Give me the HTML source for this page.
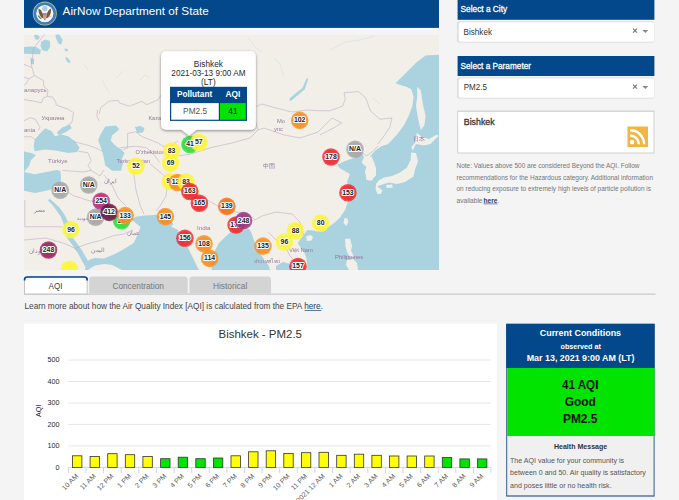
<!DOCTYPE html>
<html><head><meta charset="utf-8"><title>AirNow Department of State</title>
<style>
html,body{margin:0;padding:0;background:#f4f4f4;}
body{width:679px;height:500px;overflow:hidden;}
svg{display:block;font-family:"Liberation Sans",sans-serif;}
.ml{font-weight:bold;font-size:6.9px;text-anchor:middle;fill:#222;stroke:#fff;stroke-width:2.1px;paint-order:stroke;stroke-linejoin:round;}
</style></head><body>
<svg width="679" height="500" viewBox="0 0 679 500">
<rect width="679" height="500" fill="#f4f4f4"/>
<rect x="24" y="-1" width="415" height="28.9" fill="#03488a"/><rect x="24" y="28.3" width="415" height="1.3" fill="#fbfbfb"/>
<g transform="translate(44.8 13.6)"><circle r="12" fill="#b9c47a"/><circle r="11.2" fill="#3f7cc4"/><circle r="8.6" fill="#f4f6f8"/><circle cy="-5" r="2.7" fill="#a9cde3"/><path d="M-6.3 -5.2 L-4 -3.6 L-2.3 -0.6 L-1.2 3.2 L-1 4.8 L-3.4 4 L-5.2 1.5 L-6.2 -1.8Z" fill="#7b5a32"/><path d="M6.3 -5.2 L4 -3.6 L2.3 -0.6 L1.2 3.2 L1 4.8 L3.4 4 L5.2 1.5 L6.2 -1.8Z" fill="#7b5a32"/><rect x="-1.8" y="-0.2" width="3.6" height="1.3" fill="#3a5fa8"/><path d="M-1.8 1.1 L1.8 1.1 L1.8 3.4 Q0 5.2 -1.8 3.4Z" fill="#e08c8c"/><path d="M-1.2 5 L1.2 5 L0 6.8Z" fill="#8a6a40"/><path d="M-6.5 2 Q-5.5 4.5 -3.5 5" stroke="#4f8a3f" stroke-width="1.3" fill="none"/><path d="M4 3.5 L6.5 2.5" stroke="#b8b8b8" stroke-width="0.8" fill="none"/></g>
<text x="62.6" y="15.2" font-size="11.8" fill="#fff" textLength="146.2" lengthAdjust="spacingAndGlyphs">AirNow Department of State</text>
<defs><clipPath id="mc"><rect x="24" y="34.5" width="415" height="235.5"/></clipPath></defs>
<g clip-path="url(#mc)">
<rect x="24" y="34.5" width="415" height="235.5" fill="#f2efe9"/>
<g fill="#aad3df">
<path d="M20 47.5 L30 46.5 L36 47 L41 50 L40 54.3 L30 54 L20 53.5Z"/>
<path d="M30.3 58 L34 58.5 L34 64.6 L31 64Z"/>
<path d="M34 35 L37 34.5 L40 37 L38 40 L35 39Z"/>
<path d="M41 42 L45 39.6 L50 41 L50.2 47 L47 51.4 L42 50 L40.6 46Z"/>
<path d="M55.3 34.4 L59 34 L62.7 40 L61 44.7 L58 43 L56 38Z"/>
<path d="M64.5 48.4 L68 49 L67.5 51.4 L65 51Z"/>
<path d="M65 57.2 L68 58 L70.8 62 L68.5 63.1 L66 60Z"/>
<path d="M33.7 145.9 L34.6 139.8 L39.9 133.6 L45.2 128.3 L51.4 130.9 L54.9 136.2 L61.1 134.5 L68.2 136.2 L75.2 141.5 L79.7 147.7 L77 152.1 L68.2 153 L55.8 150.4 L45.2 149.5 L34.6 151.2Z"/>
<path d="M56.7 132.7 L62 127.4 L69.9 124.7 L71.7 128.3 L64.6 132.7 L59.3 135.3Z"/>
<path d="M100 135.3 L105.3 126.5 L115.9 125.6 L119.4 129.2 L112.3 135.3 L110.6 140.6 L115.9 145.9 L121.2 149.5 L124.7 153 L122 158.3 L122.9 163.6 L121.2 170.7 L112.3 170.7 L105.3 165.4 L103.5 156.5 L101.7 149.5 L98.2 140.6Z"/>
<path d="M20 150 L26 152 L31 153 L36 155 L31 160 L29 166 L24 172.1 L35 174.3 L46 172.1 L57 169.9 L60.3 171 L61 176 L60.3 186.4 L54.8 188.6 L46 190.8 L35 193 L24 190.8 L20 190Z"/>
<path d="M48.0 200.5 L51.9 204.6 L56.4 210.2 L60.6 216.6 L63.3 222.7 L65.2 230.6 L67.3 238.2 L71.6 244.1 L77.3 252.3 L81.9 260.4 L84.9 266.0 L88.1 269.4 L91.9 265.4 L89.1 263.0 L86.3 258.0 L81.5 249.5 L75.4 241.3 L71.7 236.2 L69.8 229.4 L67.7 221.3 L64.4 214.4 L59.6 207.8 L54.1 202.4 L49.6 198.7Z"/>
<path d="M93 204 L101 206 L110 210 L118 212.5 L124 215 L127 214 L126 219 L119 221 L108 218 L98 213Z"/>
<path d="M85 270 L86 262 L90 259.5 L94.7 258 L104 258.5 L115.8 253.6 L125 248.5 L133.6 243 L137.5 235 L140.6 227 L133.2 221 L130.4 219.6 L136 216.8 L144.4 215.4 L150 215.2 L156.3 214.7 L165 218 L173.8 223.8 L171 226.6 L178 230.1 L178 233.6 L182.2 240.6 L187.8 247.6 L192 256 L196.2 264.4 L199 270 L122 270 L112.2 265 L104 263.9 L95 265.5 L90 268.5 L88 270Z"/>
<path d="M211.6 270 L211.6 261.6 L213 254.6 L215.8 249 L219 243 L225 237 L231 231.8 L238.5 231 L244.5 229.5 L249 228.8 L251.3 232.5 L252.8 237 L255 243 L259.5 252 L264 259.6 L268.6 265.6 L270 270Z"/>
<path d="M276 266 L283 262 L290 264 L293 270 L276 270Z"/>
<path d="M307.1 275 L307.1 262.1 L305.9 256.2 L303.6 251.5 L300 246.8 L297.7 243.3 L300 239.7 L303.6 235 L307.1 230.3 L311.8 230.3 L317.7 231.5 L323.6 230.3 L329.5 226.2 L335.4 222 L340 217.4 L345 210 L348 201 L351 193 L347 182 L350 174 L341 169 L337 165 L345 161 L354 158 L361 151 L364 157 L361.6 162.4 L365.6 166.4 L370.4 156 L375.2 150.4 L380.8 146.4 L388 144 L392 140 L398.4 132.8 L404 125.2 L408.8 115.6 L412.4 106 L413.6 96.4 L411.2 89.2 L406.4 86.8 L401.6 85.6 L395.6 83.2 L399.2 79.6 L406.4 72.4 L416 62.8 L425.6 55.6 L445 54.5 L445 275 L300 275Z"/>
<path d="M135 127 L140 126 L144.5 128 L143 132.5 L137 133Z"/>
<path d="M308.4 78.4 L304.8 89.2 L298 95 L290.4 101.2 L289.2 98.8 L296 93 L302.4 88 L306.5 78.4Z"/>
</g>
<g fill="#f2efe9">
<path d="M362.5 162.4 L366.5 166.4 L365 171.2 L366.5 180 L371.4 180.8 L376 175.2 L376 168 L373.8 161.6 L371.4 156Z"/>
<path d="M416.8 132.8 L420.8 136 L428.8 139.2 L436.8 134.4 L438.4 136 L430.4 144 L424 145.6 L416 144 L412.8 150.4 L411.2 147.2 L415.2 142.4Z"/>
<path d="M411.2 152.6 L416 153 L418 161.6 L415 169.6 L413.5 176.5 L405 182 L397 184 L389 182.5 L381 185 L376 186.5 L376 184 L379.2 180 L384 177.5 L392 176 L400 172.5 L407 167.5 L410.5 160Z"/>
<path d="M386 185 L392 184.5 L393 187.5 L387 188Z"/>
<path d="M376 185 L382.4 190.4 L381 194 L377.6 194 L375.5 189Z"/>
<path d="M417.2 86.8 L420.8 90.4 L423.2 106 L425.6 115.6 L424.4 125.2 L420.8 130 L418.4 120.4 L416 106 L417.2 96.4Z"/>
<path d="M344.5 218 L347.5 218.5 L348.3 222 L346.3 226 L343.5 223Z"/>
<path d="M306 236.5 L310.5 235 L313 237 L311.5 240.5 L307 241Z"/>
<path d="M345 239 L350 238.5 L352 246 L351 251 L354.5 257 L350 257 L347 252 L345.5 246Z"/>
<path d="M347 260 L353 259 L357 263 L358 270 L349 270 L346 265Z"/>
</g>
<g fill="none" stroke="#b5d8e3" stroke-width="0.6" opacity="0.6"><path d="M102.4 80.4 L105 86 L108.8 91.6"/><path d="M123.2 70.8 L115.2 78.8"/><path d="M84 64 L88 70"/><path d="M140 80 L145 75 L150 78"/><path d="M196 50 L200 60 L206 66"/><path d="M248 38 L256 48 L262 52"/><path d="M274 58 L280 64 L284 76"/><path d="M330 50 L345 42 L360 40 L375 36"/><path d="M373 98 L380 104"/></g>
<g fill="none" stroke="#bfa7c4" stroke-width="0.7" opacity="0.8">
<path d="M44.8 34 L33.6 48.4 L32.8 54.8 L31.2 64.4 L32 67.6"/>
<path d="M24 64.4 L32 67.6 L34.4 75.6 L28.8 78.8 L24 77.2"/>
<path d="M28.8 78.8 L26.4 83.6 L24 85.2"/>
<path d="M34.4 75.6 L43.2 80.4 L44 86.8 L48 90 L47.2 96.4 L43.2 98 L41.6 102.8 L33.6 101.2 L24 99.6"/>
<path d="M47.2 96.4 L52.8 97.2 L56 102.8 L56 104.8 L68.8 109.6 L73.6 112.8 L72 122.4 L67.2 125.6"/>
<path d="M24 120.8 L30.4 117.6 L35.2 119.2 L40 127.2 L38.4 130.4"/>
<path d="M24 136.8 L32 136.8 L35.2 140"/>
<path d="M73.6 141.6 L86.4 144.8 L96 148 L102.4 151.2"/>
<path d="M78.4 151.2 L88 152.8 L91.2 160.8 L88 165.6 L91.2 170.4 L83.2 172 L62.4 170.4"/>
<path d="M97.6 109.6 L96.8 116 L99.2 120.8"/>
<path d="M99.2 114 L100.8 107.6 L108.8 101.2 L118.4 100.4 L119.6 103 L129.2 106.2 L142 101.4 L146.8 104.6 L158 99.8 L161.2 95 L170 100 L180 106 L196 112 L216 119 L232 116 L250 109 L262 104 L276 108 L292 112 L308 110 L320 110.8"/>
<path d="M127.6 133.4 L135.6 131.8 L142 136.6 L150 139.8 L158 143 L162.8 146.2 L170 146 L178 141"/>
<path d="M127.6 133.4 L127.6 148.2 L122.8 149.4"/>
<path d="M119.6 147.8 L135.6 146.2 L146.8 147.8 L154.8 155.8 L159.6 162.2"/>
<path d="M178.8 155.8 L190 154.2 L210 147.8 L232 143 L250 138 L258 130 L255 120 L250 109"/>
<path d="M258 130 L264 128 L284 135 L300 138 L318 132 L328 122 L332 118 L341.6 122.8 L334.4 127.6 L320 134.8"/>
<path d="M320 110.8 L329.6 110.8 L342.8 106 L345.2 98.8 L344 92.8 L358.4 91.6 L365.6 97.6 L370.4 110.8 L380 119.2 L392 118 L389.6 127.6 L384.8 134.8 L377.6 144.4"/>
<path d="M361 151 L366 156 L372 152 L378 146"/>
<path d="M24.8 200 L24.8 226.8 L62.4 226.8"/>
<path d="M65.6 190.8 L73.6 195.6 L88 200.4 L96 202"/>
<path d="M75.2 248.4 L88 243.6 L100.8 240.4 L113.6 235.6 L124 234 L133 230"/>
<path d="M91.2 170.4 L100 176 L104 170"/>
<path d="M104 175 L112 185 L118 198 L126 206"/>
<path d="M133 168 L136 190 L140 205 L144 214"/>
<path d="M150 164 L160 172 L168 180 L166 196 L160 206 L156 211"/>
<path d="M176 178 L190 182 L200 196 L218 206 L236 212 L248 214 L255 220"/>
<path d="M255 220 L262 216 L276 212 L292 214 L300 222 L303.6 235"/>
<path d="M268 232 L276 240 L286 248 L290 256 L296 262"/>
<path d="M24 240 L46 238 L66 244 L78 250"/>
</g>
<g fill="#8c6b94" opacity="0.9">
<text x="24" y="91.5" font-size="6.0">аларусь</text>
<text x="41.6" y="120" font-size="6.0">Украина</text>
<text x="24" y="131.5" font-size="6.0">ania</text>
<text x="48" y="163" font-size="6.0">Türkiye</text>
<text x="116.4" y="163" font-size="5.6">Turkmenistan</text>
<text x="135.6" y="153.5" font-size="5.6">O&#39;zbekiston</text>
<text x="148.4" y="120" font-size="5.6">Kaza</text>
<text x="197" y="229.5" font-size="6.2">India</text>
<text x="289" y="252" font-size="5.8">Việt Nam</text>
<text x="335" y="259" font-size="5.8">Philippines</text>
<text x="263" y="168" font-size="5.8">中国</text>
<text x="413" y="141" font-size="5.8">日本</text>
<text x="277" y="123" font-size="5.8">Mo</text>
<text x="274" y="131" font-size="5.8">ync</text>
<text x="33.6" y="211.5" font-size="5.8">مصر</text>
<text x="104" y="183" font-size="5.8">ایران</text>
<text x="76.8" y="219.5" font-size="5.2">السعودية</text>
<text x="127" y="234.5" font-size="5.8">عمان</text>
<text x="91" y="252" font-size="5.8">اليمن</text><text x="29" y="253" font-size="5.8">السودان</text>
<text x="254" y="263" font-size="5.2">ประเทศไทย</text>
</g>
<g transform="translate(48.5 250)"><circle r="8.8" fill="#a0205e" opacity="0.8"/><circle r="7.4" fill="#a0205e" opacity="0.6"/><text y="1.9" class="ml">248</text></g>
<g transform="translate(69.5 269.2)"><circle r="8.8" fill="#fdf53a" opacity="0.8"/><circle r="7.4" fill="#fdf53a" opacity="0.6"/></g>
<g transform="translate(71 229.6)"><circle r="8.8" fill="#fdf53a" opacity="0.8"/><circle r="7.4" fill="#fdf53a" opacity="0.6"/><text y="1.9" class="ml">96</text></g>
<g transform="translate(60.2 190.3)"><circle r="8.8" fill="#a6a6a6" opacity="0.8"/><circle r="7.4" fill="#a6a6a6" opacity="0.6"/><text y="1.9" class="ml">N/A</text></g>
<g transform="translate(88.7 185)"><circle r="8.8" fill="#a6a6a6" opacity="0.8"/><circle r="7.4" fill="#a6a6a6" opacity="0.6"/><text y="1.9" class="ml">N/A</text></g>
<g transform="translate(101.2 201.2)"><circle r="8.8" fill="#bf2e78" opacity="0.8"/><circle r="7.4" fill="#bf2e78" opacity="0.6"/><text y="1.9" class="ml">254</text></g>
<g transform="translate(95.6 217.2)"><circle r="8.8" fill="#a6a6a6" opacity="0.8"/><circle r="7.4" fill="#a6a6a6" opacity="0.6"/><text y="1.9" class="ml">N/A</text></g>
<g transform="translate(121.6 220.8)"><circle r="8.8" fill="#2ddc3a" opacity="0.8"/><circle r="7.4" fill="#2ddc3a" opacity="0.6"/><text y="1.9" class="ml">28</text></g>
<g transform="translate(109.2 212.4)"><circle r="8.8" fill="#6a1a42" opacity="0.8"/><circle r="7.4" fill="#6a1a42" opacity="0.6"/><text y="1.9" class="ml">412</text></g>
<g transform="translate(125.2 215.6)"><circle r="8.8" fill="#f78e1d" opacity="0.8"/><circle r="7.4" fill="#f78e1d" opacity="0.6"/><text y="1.9" class="ml">133</text></g>
<g transform="translate(136 166.2)"><circle r="8.8" fill="#fdf53a" opacity="0.8"/><circle r="7.4" fill="#fdf53a" opacity="0.6"/><text y="1.9" class="ml">52</text></g>
<g transform="translate(171.6 151)"><circle r="8.8" fill="#fdf53a" opacity="0.8"/><circle r="7.4" fill="#fdf53a" opacity="0.6"/><text y="1.9" class="ml">83</text></g>
<g transform="translate(170.6 163.1)"><circle r="8.8" fill="#fdf53a" opacity="0.8"/><circle r="7.4" fill="#fdf53a" opacity="0.6"/><text y="1.9" class="ml">69</text></g>
<g transform="translate(170 181.5)"><circle r="8.8" fill="#fdf53a" opacity="0.8"/><circle r="7.4" fill="#fdf53a" opacity="0.6"/><text y="1.9" class="ml">91</text></g>
<g transform="translate(177.5 182.5)"><circle r="8.8" fill="#f78e1d" opacity="0.8"/><circle r="7.4" fill="#f78e1d" opacity="0.6"/><text y="1.9" class="ml">128</text></g>
<g transform="translate(186 182)"><circle r="8.8" fill="#fdf53a" opacity="0.8"/><circle r="7.4" fill="#fdf53a" opacity="0.6"/><text y="1.9" class="ml">83</text></g>
<g transform="translate(189.8 191.5)"><circle r="8.8" fill="#ef282d" opacity="0.8"/><circle r="7.4" fill="#ef282d" opacity="0.6"/><text y="1.9" class="ml">163</text></g>
<g transform="translate(199.4 203.3)"><circle r="8.8" fill="#ef282d" opacity="0.8"/><circle r="7.4" fill="#ef282d" opacity="0.6"/><text y="1.9" class="ml">165</text></g>
<g transform="translate(226.8 206.4)"><circle r="8.8" fill="#fa6e14" opacity="0.8"/><circle r="7.4" fill="#fa6e14" opacity="0.6"/><text y="1.9" class="ml">139</text></g>
<g transform="translate(165.4 216.6)"><circle r="8.8" fill="#f78e1d" opacity="0.8"/><circle r="7.4" fill="#f78e1d" opacity="0.6"/><text y="1.9" class="ml">145</text></g>
<g transform="translate(184.9 238.3)"><circle r="8.8" fill="#ef282d" opacity="0.8"/><circle r="7.4" fill="#ef282d" opacity="0.6"/><text y="1.9" class="ml">156</text></g>
<g transform="translate(204 243.8)"><circle r="8.8" fill="#f78e1d" opacity="0.8"/><circle r="7.4" fill="#f78e1d" opacity="0.6"/><text y="1.9" class="ml">108</text></g>
<g transform="translate(209.6 258.4)"><circle r="8.8" fill="#f78e1d" opacity="0.8"/><circle r="7.4" fill="#f78e1d" opacity="0.6"/><text y="1.9" class="ml">114</text></g>
<g transform="translate(236.1 225)"><circle r="8.8" fill="#ef282d" opacity="0.8"/><circle r="7.4" fill="#ef282d" opacity="0.6"/><text y="1.9" class="ml">173</text></g>
<g transform="translate(243.6 220.6)"><circle r="8.8" fill="#94387f" opacity="0.8"/><circle r="7.4" fill="#94387f" opacity="0.6"/><text y="1.9" class="ml">248</text></g>
<g transform="translate(263 246.1)"><circle r="8.8" fill="#f78e1d" opacity="0.8"/><circle r="7.4" fill="#f78e1d" opacity="0.6"/><text y="1.9" class="ml">135</text></g>
<g transform="translate(284.4 242)"><circle r="8.8" fill="#fdf53a" opacity="0.8"/><circle r="7.4" fill="#fdf53a" opacity="0.6"/><text y="1.9" class="ml">96</text></g>
<g transform="translate(295.6 230.8)"><circle r="8.8" fill="#fdf53a" opacity="0.8"/><circle r="7.4" fill="#fdf53a" opacity="0.6"/><text y="1.9" class="ml">88</text></g>
<g transform="translate(320.7 223.3)"><circle r="8.8" fill="#fdf53a" opacity="0.8"/><circle r="7.4" fill="#fdf53a" opacity="0.6"/><text y="1.9" class="ml">80</text></g>
<g transform="translate(298 266.5)"><circle r="8.8" fill="#ef282d" opacity="0.8"/><circle r="7.4" fill="#ef282d" opacity="0.6"/><text y="1.9" class="ml">157</text></g>
<g transform="translate(299.7 120.4)"><circle r="8.8" fill="#f78e1d" opacity="0.8"/><circle r="7.4" fill="#f78e1d" opacity="0.6"/><text y="1.9" class="ml">102</text></g>
<g transform="translate(331 157)"><circle r="8.8" fill="#ef282d" opacity="0.8"/><circle r="7.4" fill="#ef282d" opacity="0.6"/><text y="1.9" class="ml">178</text></g>
<g transform="translate(355 149.3)"><circle r="8.8" fill="#a6a6a6" opacity="0.8"/><circle r="7.4" fill="#a6a6a6" opacity="0.6"/><text y="1.9" class="ml">N/A</text></g>
<g transform="translate(347.9 192.8)"><circle r="8.8" fill="#ef282d" opacity="0.8"/><circle r="7.4" fill="#ef282d" opacity="0.6"/><text y="1.9" class="ml">153</text></g>
<g transform="translate(190 144.5)"><circle r="8.8" fill="#2ddc3a" opacity="0.8"/><circle r="7.4" fill="#2ddc3a" opacity="0.6"/></g>
<g transform="translate(198.8 142.5)"><circle r="8.8" fill="#fdf53a" opacity="0.8"/><circle r="7.4" fill="#fdf53a" opacity="0.6"/></g>
<g transform="translate(190 144.5)"><text y="1.9" class="ml">41</text></g>
<g transform="translate(198.8 142.5)"><text y="1.9" class="ml">57</text></g>
</g>
<defs><filter id="sh" x="-20%" y="-20%" width="140%" height="140%"><feGaussianBlur in="SourceAlpha" stdDeviation="1.7"/><feOffset dy="0.8"/><feComponentTransfer><feFuncA type="linear" slope="0.45"/></feComponentTransfer><feMerge><feMergeNode/><feMergeNode in="SourceGraphic"/></feMerge></filter></defs>
<g filter="url(#sh)"><rect x="161" y="51.2" width="94.8" height="78.5" rx="5" fill="#fff"/><path d="M180.5 129 L197.5 129 L189.2 135.6Z" fill="#fff"/></g>
<text x="208.4" y="67" font-size="8.3" fill="#2a2a2a" text-anchor="middle">Bishkek</text>
<text x="208.4" y="76.3" font-size="8.3" fill="#2a2a2a" text-anchor="middle" textLength="74.1" lengthAdjust="spacingAndGlyphs">2021-03-13 9:00 AM</text>
<text x="208.4" y="84.6" font-size="8.3" fill="#2a2a2a" text-anchor="middle">(LT)</text>
<rect x="170" y="86.8" width="77" height="34.1" fill="#03488a"/>
<rect x="171.2" y="103.1" width="47.6" height="16.6" fill="#fff"/>
<rect x="220" y="103.1" width="25.8" height="16.6" fill="#00e400"/>
<text x="194.6" y="97.1" font-size="8.3" fill="#fff" font-weight="bold" text-anchor="middle" textLength="35.2" lengthAdjust="spacingAndGlyphs">Pollutant</text>
<text x="232.9" y="97.1" font-size="8.3" fill="#fff" font-weight="bold" text-anchor="middle">AQI</text>
<text x="195.1" y="113.6" font-size="8.3" fill="#555" text-anchor="middle">PM2.5</text>
<text x="232.9" y="113.6" font-size="8.3" fill="#111" text-anchor="middle">41</text>
<rect x="457.6" y="-1" width="196.8" height="20.8" fill="#03488a"/>
<text x="460.6" y="12.3" font-size="9" fill="#fff" textLength="46.5" lengthAdjust="spacingAndGlyphs" stroke="#fff" stroke-width="0.3">Select a City</text>
<rect x="457.2" y="21.6" width="197.2" height="21" rx="2" fill="#d6d6d6"/>
<rect x="458.6" y="22.2" width="195.6" height="19.6" rx="1.5" fill="#fff"/>
<text x="463.6" y="34.8" font-size="9.4" fill="#333" textLength="28.4" lengthAdjust="spacingAndGlyphs">Bishkek</text>
<rect x="457.6" y="56" width="196.8" height="20" fill="#03488a"/>
<text x="460.5" y="69.1" font-size="9" fill="#fff" textLength="70.5" lengthAdjust="spacingAndGlyphs" stroke="#fff" stroke-width="0.3">Select a Parameter</text>
<rect x="457.2" y="77.6" width="197.2" height="21" rx="2" fill="#d6d6d6"/>
<rect x="458.6" y="78.2" width="195.6" height="19.6" rx="1.5" fill="#fff"/>
<text x="463.7" y="90.1" font-size="8.9" fill="#333" textLength="23.2" lengthAdjust="spacingAndGlyphs">PM2.5</text>
<path d="M633 28.7 L637 32.7 M637 28.7 L633 32.7" stroke="#777" stroke-width="1.15"/>
<path d="M642.3 30 L648.3 30 L645.3 33Z" fill="#888"/>
<path d="M633 84.7 L637 88.7 M637 84.7 L633 88.7" stroke="#777" stroke-width="1.15"/>
<path d="M642.3 86 L648.3 86 L645.3 89Z" fill="#888"/>
<rect x="457.2" y="110.5" width="197.3" height="43" fill="#cfcfcf"/>
<rect x="458.2" y="111.8" width="195.3" height="40.7" fill="#fff"/>
<text x="463.8" y="125" font-size="9.8" fill="#3a3a3a" textLength="30.8" lengthAdjust="spacingAndGlyphs" stroke="#3a3a3a" stroke-width="0.35">Bishkek</text>
<g transform="translate(627.5 126.5)"><rect width="20.5" height="20.5" fill="#f0b542"/><circle cx="4.6" cy="15.6" r="2.3" fill="#fff"/><path d="M2.6 9 A8.8 8.8 0 0 1 11.4 17.8" fill="none" stroke="#fff" stroke-width="2.4"/><path d="M2.6 3.8 A14 14 0 0 1 16.6 17.8" fill="none" stroke="#fff" stroke-width="2.4"/></g>
<text x="456.5" y="168" font-size="6.6" fill="#747474" textLength="183" lengthAdjust="spacingAndGlyphs">Note: Values above 500 are considered Beyond the AQI. Follow</text>
<text x="456.5" y="179.5" font-size="6.6" fill="#747474" textLength="196.5" lengthAdjust="spacingAndGlyphs">recommendations for the Hazardous category. Additional information</text>
<text x="456.5" y="191" font-size="6.6" fill="#747474" textLength="194.5" lengthAdjust="spacingAndGlyphs">on reducing exposure to extremely high levels of particle pollution is</text>
<text x="456.5" y="202.5" font-size="6.6" fill="#747474">available</text>
<text x="483.5" y="202.5" font-size="6.6" font-weight="bold" fill="#2a3f66">here</text>
<rect x="483.5" y="203.6" width="14" height="0.6" fill="#2a3f66"/>
<text x="497.6" y="202.5" font-size="6.6" fill="#747474">.</text>
<rect x="24" y="293.6" width="631.5" height="1" fill="#bdbdbd"/>
<path d="M24.5 294 L24.5 279.5 Q24.5 276.8 27.5 276.8 L84.2 276.8 Q87.2 276.8 87.2 279.5 L87.2 294Z" fill="#fff" stroke="#c4c4c4" stroke-width="1"/>
<path d="M24.6 280.5 L24.6 279.2 Q24.6 277 27.6 277 L84.1 277 Q87.1 277 87.1 279.2 L87.1 280.5" fill="none" stroke="#03488a" stroke-width="1.7"/>
<path d="M89.2 293.6 L89.2 279.5 Q89.2 276.6 92.2 276.6 L184.7 276.6 Q187.7 276.6 187.7 279.5 L187.7 293.6Z" fill="#d4d4d4"/>
<path d="M189.4 293.6 L189.4 279.5 Q189.4 276.6 192.4 276.6 L268 276.6 Q271 276.6 271 279.5 L271 293.6Z" fill="#d4d4d4"/>
<text x="55.5" y="289.4" font-size="9" fill="#444" text-anchor="middle" textLength="14" lengthAdjust="spacingAndGlyphs">AQI</text>
<text x="138.2" y="289.4" font-size="9" fill="#777" text-anchor="middle" textLength="51.5" lengthAdjust="spacingAndGlyphs">Concentration</text>
<text x="230.1" y="289.4" font-size="9" fill="#777" text-anchor="middle" textLength="34.4" lengthAdjust="spacingAndGlyphs">Historical</text>
<text x="24.5" y="308.8" font-size="8.2" fill="#444" textLength="298.5" lengthAdjust="spacingAndGlyphs">Learn more about how the Air Quality Index [AQI] is calculated from the EPA <tspan fill="#23406e">here</tspan>.</text>
<rect x="304.6" y="310" width="16.8" height="0.7" fill="#23406e"/>
<rect x="24" y="323.8" width="473" height="180" fill="#fff"/>
<text x="260.25" y="338" font-size="11" fill="#333" text-anchor="middle" textLength="83.5" lengthAdjust="spacingAndGlyphs">Bishkek - PM2.5</text>
<g stroke="#e6e6e6" stroke-width="1">
<line x1="68.4" x2="491" y1="445.9" y2="445.9"/>
<line x1="68.4" x2="491" y1="424.4" y2="424.4"/>
<line x1="68.4" x2="491" y1="403.0" y2="403.0"/>
<line x1="68.4" x2="491" y1="381.5" y2="381.5"/>
<line x1="68.4" x2="491" y1="360.0" y2="360.0"/>
</g><g stroke="#ccd6eb" stroke-width="1">
<line x1="68.4" x2="491" y1="467.4" y2="467.4"/>
<line x1="68.4" x2="68.4" y1="467.4" y2="473"/>
<line x1="86.0" x2="86.0" y1="467.4" y2="473"/>
<line x1="103.6" x2="103.6" y1="467.4" y2="473"/>
<line x1="121.2" x2="121.2" y1="467.4" y2="473"/>
<line x1="138.8" x2="138.8" y1="467.4" y2="473"/>
<line x1="156.4" x2="156.4" y1="467.4" y2="473"/>
<line x1="174.1" x2="174.1" y1="467.4" y2="473"/>
<line x1="191.7" x2="191.7" y1="467.4" y2="473"/>
<line x1="209.3" x2="209.3" y1="467.4" y2="473"/>
<line x1="226.9" x2="226.9" y1="467.4" y2="473"/>
<line x1="244.5" x2="244.5" y1="467.4" y2="473"/>
<line x1="262.1" x2="262.1" y1="467.4" y2="473"/>
<line x1="279.7" x2="279.7" y1="467.4" y2="473"/>
<line x1="297.3" x2="297.3" y1="467.4" y2="473"/>
<line x1="314.9" x2="314.9" y1="467.4" y2="473"/>
<line x1="332.5" x2="332.5" y1="467.4" y2="473"/>
<line x1="350.2" x2="350.2" y1="467.4" y2="473"/>
<line x1="367.8" x2="367.8" y1="467.4" y2="473"/>
<line x1="385.4" x2="385.4" y1="467.4" y2="473"/>
<line x1="403.0" x2="403.0" y1="467.4" y2="473"/>
<line x1="420.6" x2="420.6" y1="467.4" y2="473"/>
<line x1="438.2" x2="438.2" y1="467.4" y2="473"/>
<line x1="455.8" x2="455.8" y1="467.4" y2="473"/>
<line x1="473.4" x2="473.4" y1="467.4" y2="473"/>
<line x1="491.0" x2="491.0" y1="467.4" y2="473"/>
</g><g font-size="6.7" fill="#2a2a2a" text-anchor="end">
<text x="59.6" y="469.8" textLength="4" lengthAdjust="spacingAndGlyphs">0</text>
<text x="59.6" y="448.3" textLength="12" lengthAdjust="spacingAndGlyphs">100</text>
<text x="59.6" y="426.8" textLength="12" lengthAdjust="spacingAndGlyphs">200</text>
<text x="59.6" y="405.4" textLength="12" lengthAdjust="spacingAndGlyphs">300</text>
<text x="59.6" y="383.9" textLength="12" lengthAdjust="spacingAndGlyphs">400</text>
<text x="59.6" y="362.4" textLength="12" lengthAdjust="spacingAndGlyphs">500</text>
</g>
<text transform="translate(41.3 410.8) rotate(-90)" font-size="7.3" fill="#222" text-anchor="middle">AQI</text>
<g stroke="#333" stroke-width="0.8">
<rect x="72.5" y="455.8" width="9.4" height="11.6" fill="#ffff00"/>
<rect x="90.1" y="456.5" width="9.4" height="10.9" fill="#ffff00"/>
<rect x="107.7" y="453.7" width="9.4" height="13.7" fill="#ffff00"/>
<rect x="125.3" y="454.7" width="9.4" height="12.7" fill="#ffff00"/>
<rect x="142.9" y="456.5" width="9.4" height="10.9" fill="#ffff00"/>
<rect x="160.6" y="458.7" width="9.4" height="8.7" fill="#00e400"/>
<rect x="178.2" y="457.2" width="9.4" height="10.2" fill="#00e400"/>
<rect x="195.8" y="458.7" width="9.4" height="8.7" fill="#00e400"/>
<rect x="213.4" y="458.0" width="9.4" height="9.4" fill="#00e400"/>
<rect x="231.0" y="455.8" width="9.4" height="11.6" fill="#ffff00"/>
<rect x="248.6" y="451.8" width="9.4" height="15.6" fill="#ffff00"/>
<rect x="266.2" y="450.8" width="9.4" height="16.6" fill="#ffff00"/>
<rect x="283.8" y="453.4" width="9.4" height="14.0" fill="#ffff00"/>
<rect x="301.4" y="452.7" width="9.4" height="14.7" fill="#ffff00"/>
<rect x="319.0" y="452.3" width="9.4" height="15.1" fill="#ffff00"/>
<rect x="336.7" y="455.3" width="9.4" height="12.1" fill="#ffff00"/>
<rect x="354.3" y="454.2" width="9.4" height="13.2" fill="#ffff00"/>
<rect x="371.9" y="455.3" width="9.4" height="12.1" fill="#ffff00"/>
<rect x="389.5" y="456.0" width="9.4" height="11.4" fill="#ffff00"/>
<rect x="407.1" y="456.0" width="9.4" height="11.4" fill="#ffff00"/>
<rect x="424.7" y="456.0" width="9.4" height="11.4" fill="#ffff00"/>
<rect x="442.3" y="457.5" width="9.4" height="9.9" fill="#00e400"/>
<rect x="459.9" y="458.9" width="9.4" height="8.5" fill="#00e400"/>
<rect x="477.5" y="458.9" width="9.4" height="8.5" fill="#00e400"/>
</g><g font-size="7" fill="#5a5a5a" text-anchor="end">
<text transform="translate(78.8 476.6) rotate(-45)">10 AM</text>
<text transform="translate(96.4 476.6) rotate(-45)">11 AM</text>
<text transform="translate(114.0 476.6) rotate(-45)">12 PM</text>
<text transform="translate(131.6 476.6) rotate(-45)">1 PM</text>
<text transform="translate(149.2 476.6) rotate(-45)">2 PM</text>
<text transform="translate(166.9 476.6) rotate(-45)">3 PM</text>
<text transform="translate(184.5 476.6) rotate(-45)">4 PM</text>
<text transform="translate(202.1 476.6) rotate(-45)">5 PM</text>
<text transform="translate(219.7 476.6) rotate(-45)">6 PM</text>
<text transform="translate(237.3 476.6) rotate(-45)">7 PM</text>
<text transform="translate(254.9 476.6) rotate(-45)">8 PM</text>
<text transform="translate(272.5 476.6) rotate(-45)">9 PM</text>
<text transform="translate(290.1 476.6) rotate(-45)">10 PM</text>
<text transform="translate(307.7 476.6) rotate(-45)">11 PM</text>
<text transform="translate(325.3 476.6) rotate(-45)">Mar 13 2021 12 AM</text>
<text transform="translate(343.0 476.6) rotate(-45)">1 AM</text>
<text transform="translate(360.6 476.6) rotate(-45)">2 AM</text>
<text transform="translate(378.2 476.6) rotate(-45)">3 AM</text>
<text transform="translate(395.8 476.6) rotate(-45)">4 AM</text>
<text transform="translate(413.4 476.6) rotate(-45)">5 AM</text>
<text transform="translate(431.0 476.6) rotate(-45)">6 AM</text>
<text transform="translate(448.6 476.6) rotate(-45)">7 AM</text>
<text transform="translate(466.2 476.6) rotate(-45)">8 AM</text>
<text transform="translate(483.8 476.6) rotate(-45)">9 AM</text>
</g>
<rect x="506.2" y="323.8" width="148.4" height="172.8" fill="#2d5b8f"/>
<rect x="507.2" y="368" width="146.4" height="127.4" fill="#f0f0f0"/>
<rect x="506.2" y="323.8" width="148.4" height="44.2" fill="#03488a"/>
<rect x="507.2" y="368" width="147.4" height="68" fill="#00e400"/>
<text x="580.4" y="336.4" font-size="9" fill="#fff" font-weight="bold" text-anchor="middle" textLength="81.3" lengthAdjust="spacingAndGlyphs">Current Conditions</text>
<text x="580.7" y="348.6" font-size="7.4" fill="#fff" font-weight="bold" text-anchor="middle" textLength="40.4" lengthAdjust="spacingAndGlyphs">observed at</text>
<text x="580.6" y="361" font-size="8.9" fill="#fff" font-weight="bold" text-anchor="middle" textLength="107.8" lengthAdjust="spacingAndGlyphs">Mar 13, 2021 9:00 AM (LT)</text>
<text x="580.2" y="389.2" font-size="11.9" fill="#111" font-weight="bold" text-anchor="middle" textLength="36.4" lengthAdjust="spacingAndGlyphs">41 AQI</text>
<text x="580.2" y="405.8" font-size="11.9" fill="#111" font-weight="bold" text-anchor="middle">Good</text>
<text x="580.2" y="422.8" font-size="11.9" fill="#111" font-weight="bold" text-anchor="middle">PM2.5</text>
<text x="580.6" y="448.5" font-size="7.05" fill="#333" font-weight="bold" text-anchor="middle" textLength="53.3" lengthAdjust="spacingAndGlyphs">Health Message</text>
<text x="510" y="462.6" font-size="7.05" fill="#555" textLength="114" lengthAdjust="spacingAndGlyphs">The AQI value for your community is</text>
<text x="510" y="475.3" font-size="7.05" fill="#555" textLength="135.8" lengthAdjust="spacingAndGlyphs">between 0 and 50. Air quality is satisfactory</text>
<text x="510" y="487.9" font-size="7.05" fill="#555" textLength="101.6" lengthAdjust="spacingAndGlyphs">and poses little or no health risk.</text>
</svg>
</body></html>
